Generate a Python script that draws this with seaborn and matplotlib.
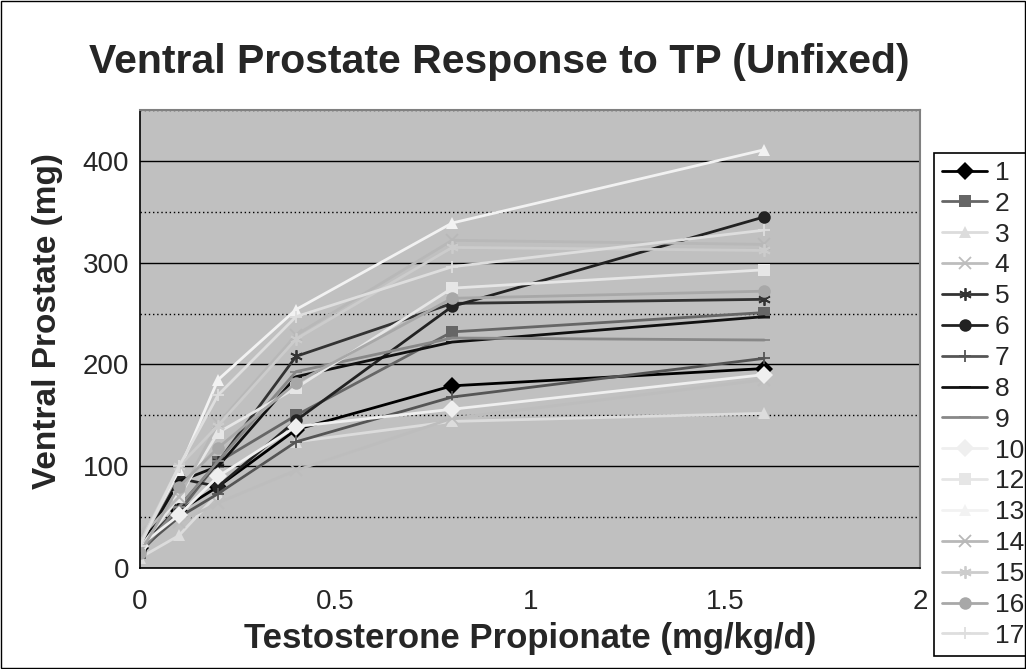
import numpy as np
import pandas as pd
import seaborn as sns
import matplotlib.pyplot as plt
import matplotlib.patches as patches
from matplotlib.ticker import MultipleLocator

# dose groups (mg/kg/d)
dose = [0, 0.1, 0.2, 0.4, 0.8, 1.6]

# ventral prostate weight (mg) per animal group
rat_1 = [20, 56, 80, 136, 179, 196]
rat_2 = [15, 55, 104, 150, 232, 251]
rat_3 = [10, 32, 73, 124, 144, 152]
rat_4 = [35, 45, 64, 96, 147, 185]
rat_5 = [20, 60, 104, 208, 260, 264]
rat_6 = [18, 88, 80, 145, 257, 345]
rat_7 = [18, 50, 73, 124, 168, 206]
rat_8 = [18, 85, 100, 188, 222, 247]
rat_9 = [16, 60, 105, 193, 226, 224]
rat_10 = [22, 52, 90, 139, 156, 190]
rat_12 = [20, 70, 133, 177, 275, 293]
rat_13 = [25, 96, 185, 254, 339, 411]
rat_14 = [30, 70, 142, 229, 322, 318]
rat_15 = [25, 100, 140, 225, 315, 312]
rat_16 = [15, 80, 118, 182, 265, 272]
rat_17 = [22, 100, 170, 247, 296, 332]

labels = ['1', '2', '3', '4', '5', '6', '7', '8', '9', '10',
          '12', '13', '14', '15', '16', '17']
values = [rat_1, rat_2, rat_3, rat_4, rat_5, rat_6, rat_7, rat_8, rat_9, rat_10,
          rat_12, rat_13, rat_14, rat_15, rat_16, rat_17]

colors = ['#000000', '#666666', '#dcdcdc', '#bdbdbd', '#333333', '#222222',
          '#555555', '#111111', '#888888', '#efefef', '#e6e6e6', '#f2f2f2',
          '#b8b8b8', '#cccccc', '#a8a8a8', '#dedede']
markers = ['D', 's', '^', 'x', (6, 2, 0), 'o', '+', '_', '_', 'D',
           's', '^', 'x', (6, 2, 0), 'o', '+']

df = pd.DataFrame({'dose': dose * len(labels),
                   'weight': sum(values, []),
                   'rat': np.repeat(labels, len(dose))})

sns.set_style('white')
plt.rcParams['font.family'] = ['Liberation Sans', 'DejaVu Sans']

fig = plt.figure(figsize=(10.26, 6.69), dpi=100)
ax = fig.add_axes([0.1365, 0.151, 0.7605, 0.6845])
ax.set_facecolor('#c0c0c0')

for lab, col, mk in zip(labels, colors, markers):
    sub = df[df['rat'] == lab]
    line_mk = mk in ['x', '+', '_'] or isinstance(mk, tuple)
    sns.lineplot(data=sub, x='dose', y='weight', color=col, marker=mk,
                 markersize=9, markeredgewidth=1.3 if line_mk else 0,
                 markeredgecolor=col, linewidth=2, label=lab, ax=ax)

ax.set_xlim(0, 2)
ax.set_ylim(0, 450)
ax.yaxis.set_major_locator(MultipleLocator(100))
ax.yaxis.set_minor_locator(MultipleLocator(50))
ax.set_xticks([0, 0.5, 1, 1.5, 2])
ax.set_xticklabels(['0', '0.5', '1', '1.5', '2'])
ax.grid(which='major', axis='y', color='black', linewidth=1)
ax.grid(which='minor', axis='y', color='black', linewidth=1, linestyle=(0, (1, 2)))
ax.grid(which='major', axis='x', visible=False)
ax.tick_params(axis='both', which='both', direction='out', length=6, width=1,
               color='black', labelsize=20)
ax.tick_params(axis='x', pad=9)
ax.tick_params(axis='y', pad=2)
ax.tick_params(axis='y', which='minor', labelleft=False)
for s in ['left', 'bottom']:
    ax.spines[s].set_color('black')
    ax.spines[s].set_linewidth(1.2)
for s in ['top', 'right']:
    ax.spines[s].set_color('#808080')
    ax.spines[s].set_linewidth(1.5)

ax.set_xlabel('Testosterone Propionate (mg/kg/d)', fontsize=25, fontweight='bold', labelpad=5)
ax.set_ylabel('Ventral Prostate (mg)', fontsize=24, fontweight='bold')
ax.yaxis.set_label_coords(-0.099, 0.54)
fig.text(0.487, 0.907, 'Ventral Prostate Response to TP (Unfixed)',
         fontsize=29.5, fontweight='bold', ha='center', va='center')

leg = ax.legend(loc='upper left', bbox_to_anchor=(0.9105, 0.7715),
                bbox_transform=fig.transFigure, fontsize=19, frameon=True,
                fancybox=False, edgecolor='black', framealpha=1,
                handlelength=1.7, handletextpad=0.3, labelspacing=0.26,
                borderpad=0.3, borderaxespad=0)
leg.get_frame().set_linewidth(1.2)

fig.patches.append(patches.Rectangle((0.001, 0.001), 0.998, 0.998, transform=fig.transFigure,
                                     fill=False, edgecolor='black', linewidth=1))

fig.savefig('out.png', dpi=100)
